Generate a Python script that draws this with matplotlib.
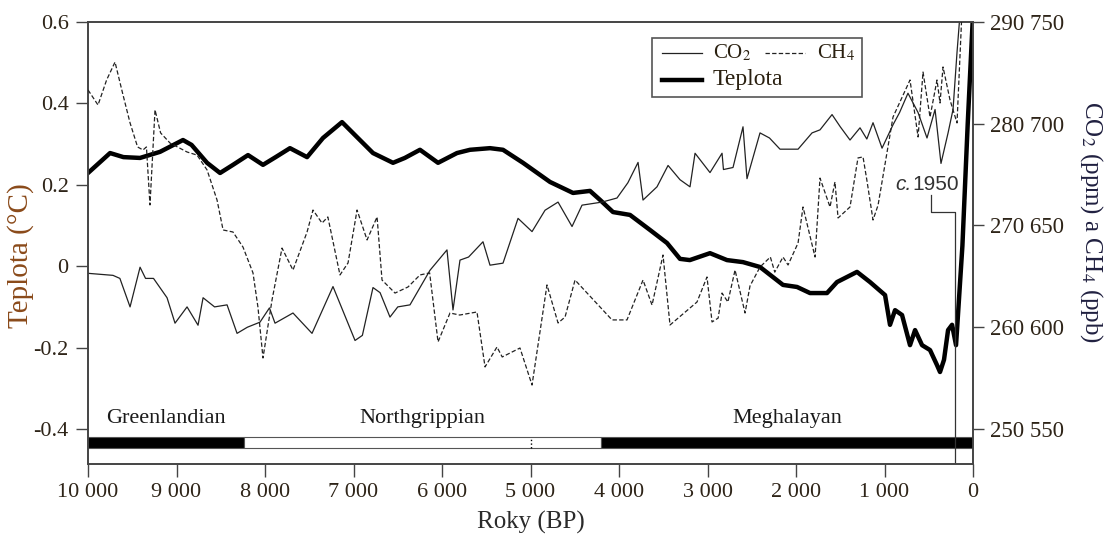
import numpy as np
import matplotlib
matplotlib.use('Agg')
import matplotlib.pyplot as plt
from matplotlib.patches import Rectangle

plt.rcParams['font.family'] = ['Liberation Serif', 'DejaVu Serif']
plt.rcParams['mathtext.fontset'] = 'stix'

# temperature anomaly (deg C) vs years BP
temp_yr = [10000, 9751, 9600, 9412, 9186, 8927, 8830, 8655, 8508, 8362, 8192, 8023, 7880,
           7718, 7525, 7345, 7130, 6960, 6780, 6554, 6420, 6249, 6045, 5831, 5684, 5458,
           5311, 5085, 4780, 4520, 4328, 4215, 4068, 3876, 3650, 3458, 3311, 3200, 2972,
           2780, 2599, 2407, 2147, 1989, 1842, 1650, 1537, 1311, 1164, 994, 938, 881, 802,
           712, 655, 576, 486, 407, 373, 328, 282, 237, 192, 120, 60, 0]
temp = [0.229, 0.278, 0.268, 0.266, 0.281, 0.310, 0.298, 0.254, 0.229, 0.249, 0.273, 0.249,
        0.268, 0.290, 0.268, 0.315, 0.354, 0.317, 0.278, 0.254, 0.266, 0.286, 0.254, 0.278,
        0.286, 0.290, 0.286, 0.254, 0.207, 0.180, 0.185, 0.163, 0.133, 0.126, 0.089, 0.057,
        0.018, 0.015, 0.032, 0.015, 0.010, -0.002, -0.046, -0.051, -0.066, -0.066, -0.039,
        -0.014, -0.039, -0.071, -0.144, -0.108, -0.120, -0.194, -0.157, -0.194, -0.206,
        -0.243, -0.260, -0.230, -0.157, -0.144, -0.194, 0.05, 0.35, 0.62]

# CO2 (ppm)
co2_yr = [10000, 9718, 9640, 9525, 9412, 9350, 9260, 9107, 9017, 8881, 8757, 8700, 8570,
          8429, 8316, 8200, 8057, 7950, 7887, 7684, 7469, 7232, 6983, 6900, 6780, 6700,
          6588, 6500, 6362, 6136, 5944, 5876, 5797, 5700, 5537, 5458, 5311, 5141, 4983,
          4836, 4689, 4531, 4418, 4192, 4023, 3900, 3785, 3729, 3571, 3446, 3311, 3198,
          3141, 2972, 2836, 2820, 2712, 2599, 2554, 2407, 2300, 2181, 1977, 1819, 1729,
          1593, 1500, 1390, 1277, 1200, 1130, 1028, 904, 830, 735, 621, 520, 429,
          362, 282, 226, 181, 100]
co2 = [265.3, 265.1, 264.8, 262.0, 265.9, 264.8, 264.8, 262.9, 260.4, 262.0, 260.2, 262.9,
       262.0, 262.2, 259.4, 260.0, 260.5, 261.9, 260.4, 261.4, 259.4, 264.0, 258.7, 259.2,
       263.9, 263.4, 261.0, 262.0, 262.2, 265.6, 267.6, 261.7, 266.6, 266.9, 268.4, 266.1,
       266.3, 270.7, 269.4, 271.5, 272.3, 269.9, 272.0, 272.3, 272.7, 274.2, 276.2, 272.5,
       273.8, 275.9, 274.5, 273.8, 277.1, 275.2, 277.1, 275.5, 275.7, 279.7, 274.6, 279.1,
       278.6, 277.5, 277.5, 279.1, 279.4, 280.9, 279.7, 278.4, 279.6, 278.5, 280.1,
       277.6, 279.9, 281.1, 283.0, 281.1, 278.6, 281.4, 276.1, 279.1, 281.4, 287.0, 296.0]

# CH4 (ppb)
ch4_yr = [10000, 9887, 9790, 9695, 9610, 9525, 9440, 9379, 9340, 9300, 9243, 9180, 9073,
          8880, 8768, 8655, 8542, 8474, 8362, 8249, 8136, 8080, 8023, 7921, 7808, 7684,
          7525, 7458, 7356, 7290, 7153, 7062, 6960, 6847, 6734, 6678, 6531, 6384, 6249,
          6140, 6045, 5910, 5800, 5605, 5514, 5379, 5320, 5119, 4983, 4814, 4689, 4610,
          4497, 4079, 3910, 3729, 3627, 3503, 3424, 3119, 3006, 2949, 2880, 2836, 2770,
          2689, 2576, 2520, 2407, 2290, 2240, 2147, 2090, 1977, 1921, 1785, 1729, 1616,
          1560, 1525, 1390, 1300, 1243, 1200, 1130, 1073, 904, 712, 621, 565, 486, 407,
          373, 339, 260, 181, 120]
ch4 = [716.6, 709.2, 721.5, 730.3, 715.1, 700.4, 688.6, 687.1, 688.6, 660.1, 706.8, 695.5,
       690.5, 686.1, 684.6, 677.3, 662.5, 647.8, 646.8, 639.4, 626.7, 609.9, 584.9, 613.4,
       638.9, 628.1, 646.8, 657.6, 651.2, 654.2, 625.7, 631.6, 657.6, 642.9, 654.2, 623.2,
       616.8, 619.8, 625.7, 626.7, 592.8, 607.0, 606.0, 607.5, 580.5, 590.3, 585.4, 589.8,
       571.6, 620.8, 602.1, 605.0, 623.2, 603.6, 603.6, 623.2, 610.9, 635.5, 601.1, 612.4,
       624.7, 602.6, 604.5, 616.8, 612.4, 628.1, 607.0, 620.3, 629.6, 634.5, 627.1, 634.5,
       630.6, 641.4, 659.1, 634.5, 673.3, 659.1, 671.4, 653.7, 659.1, 683.2, 683.7, 672.4,
       652.7, 660.0, 703.3, 721.5, 693.5, 725.4, 703.3, 721.5, 710.2, 727.9, 711.7, 700.4,
       760.0]

# geological stages
stage_names = ['Greenlandian', 'Northgrippian', 'Meghalayan']
stage_edges = [10000, 8236, 4200, 0]
stage_colors = ['black', 'white', 'black']

x_ticks = [10000, 9000, 8000, 7000, 6000, 5000, 4000, 3000, 2000, 1000, 0]
x_labels = ['10 000', '9 000', '8 000', '7 000', '6 000', '5 000', '4 000', '3 000',
            '2 000', '1 000', '0']
temp_ticks = [0.6, 0.4, 0.2, 0, -0.2, -0.4]
temp_labels = ['0.6', '0.4', '0.2', '0', '-0.2', '-0.4']
co2_ticks = [250, 260, 270, 280, 290]
ch4_ticks = [550, 600, 650, 700, 750]
yr_1950 = 200

tick_col = '#2e2418'
spine_col = '#444444'
text_col = '#2a2010'

fig = plt.figure(figsize=(11.1, 5.35), dpi=100)
ax = fig.add_axes([0.0793, 0.1327, 0.7973, 0.8262])
ax2 = ax.twinx()
ax3 = ax.twinx()

ax.set_xlim(10000, 0)
ax.set_ylim(-0.486, 0.6)
ax2.set_ylim(246.56, 290)
ax3.set_ylim(532.8, 750)
ax3.axis('off')

ax2.plot(co2_yr, co2, color='#222222', lw=0.9)
ax3.plot(ch4_yr, ch4, color='#222222', lw=0.9, dashes=(3.5, 1.8))
ax.plot(temp_yr, temp, color='black', lw=3.2, solid_joinstyle='round')

# stage bar
bar_lo, bar_hi = -0.447, -0.420
for i in range(3):
    ax.barh((bar_lo + bar_hi) / 2, stage_edges[i] - stage_edges[i + 1],
            left=stage_edges[i + 1], height=bar_hi - bar_lo,
            color=stage_colors[i], edgecolor='#555555', lw=0.8)
    ax.text((stage_edges[i] + stage_edges[i + 1]) / 2, -0.373, stage_names[i],
            ha='center', va='center', fontsize=16, color='#1a1a1a')
ax.plot([5000, 5000], [bar_lo, bar_hi], ':', color='black', lw=1)

# c.1950 marker
ax.plot([yr_1950, yr_1950, 475, 475], [-0.486, 0.133, 0.133, 0.175], color='#333333', lw=0.9)
ax.text(690, 0.2, 'c.', style='italic', ha='right', va='center', fontsize=15,
        family='Liberation Sans', color='#333333')
ax.text(690, 0.2, '1950', ha='left', va='center', fontsize=15,
        family='Liberation Sans', color='#333333')

ax.set_xticks(x_ticks)
ax.set_xticklabels(x_labels)
ax.set_yticks(temp_ticks)
ax.set_yticklabels(temp_labels)
ax2.set_yticks(co2_ticks)
ax2.set_yticklabels([f'{c} {m}' for c, m in zip(co2_ticks, ch4_ticks)])

ax.tick_params(axis='both', direction='out', length=9, width=1, color=spine_col,
               labelsize=16, labelcolor=tick_col, pad=5)
ax2.tick_params(axis='y', direction='out', length=8, width=1, color=spine_col,
                labelsize=16.5, labelcolor=tick_col, pad=4)
for a in (ax, ax2):
    for s in a.spines.values():
        s.set_color(spine_col)
        s.set_linewidth(1.2)

ax.set_xlabel('Roky (BP)', fontsize=18, color='#2a2a2a', labelpad=6)
ax.set_ylabel('Teplota (°C)', fontsize=21, color='#8a4a1a', va='center')
ax.yaxis.set_label_coords(-0.0757, 0.471)
ax2.set_ylabel('CO$_2$ (ppm) a CH$_4$ (ppb)', fontsize=18, color='#202040',
               rotation=-90, va='center')
ax2.yaxis.set_label_coords(1.134, 0.548)

# legend box
tr = ax.transAxes
ax.add_patch(Rectangle((0.6373, 0.8303), 0.2373, 0.1335, transform=tr, facecolor='white',
                       edgecolor='#555555', lw=1.2, zorder=5))
ax.plot([0.6486, 0.6938], [0.9299, 0.9299], color='#222222', lw=0.9, transform=tr, zorder=6)
ax.text(0.7062, 0.9299, 'CO$_2$', transform=tr, fontsize=15, va='center', color=text_col,
        zorder=6)
ax.plot([0.7650, 0.8102], [0.9299, 0.9299], color='#222222', lw=0.9, dashes=(3.5, 1.8),
        transform=tr, zorder=6)
ax.text(0.8237, 0.9299, 'CH$_4$', transform=tr, fontsize=15, va='center', color=text_col,
        zorder=6)
ax.plot([0.6486, 0.6938], [0.8688, 0.8688], color='black', lw=3.2, transform=tr, zorder=6)
ax.text(0.7062, 0.8688, 'Teplota', transform=tr, fontsize=17, va='center', color=text_col,
        zorder=6)

fig.savefig('out.png', dpi=100)
